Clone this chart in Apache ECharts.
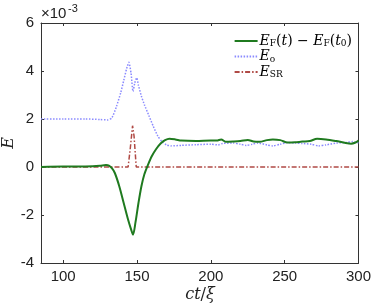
<!DOCTYPE html>
<html><head><meta charset="utf-8">
<script src="https://cdn.jsdelivr.net/npm/echarts@6/dist/echarts.min.js"></script>
<style>html,body{margin:0;padding:0;background:#fff}#c{width:374px;height:306px}</style>
</head><body><div id="c"></div>
<script>
// values in units of 1e-3
const greenX = [85,100,110,120,125,129,131,133,135,138,141,144,146,147.3,149,151,153,155,157.5,160,163,166,169,172,176,180,190,200,204,207,210,215,220,225,229,233,238,242,247,252,257,262,267,272,278,285,290,295,298,300];
const greenY = [0,0.02,0.02,0.03,0.05,0.08,0.06,-0.05,-0.25,-0.8,-1.5,-2.2,-2.6,-2.82,-2.3,-1.5,-0.8,-0.3,0.1,0.45,0.75,0.98,1.12,1.18,1.15,1.1,1.08,1.1,1.1,1.15,1.05,1.06,1.08,1.13,1.06,1.05,1.12,1.15,1.12,1.02,1.03,1.06,1.08,1.18,1.15,1.08,1.02,0.97,1.02,1.1];
const blueX = [85,100,115,125,130,133,136,139,141,143,144.5,146,147.3,148.5,149.8,151,153,155,158,161,164,167,170,173,180,190,200,205,208,215,220,224,228,232,238,242,247,252,257,262,268,273,278,285,292,296,300];
const blueY = [2.0,2.0,2.0,1.98,1.96,2.05,2.5,3.1,3.6,4.1,4.36,3.9,3.15,3.5,3.72,3.4,2.95,2.6,2.15,1.7,1.3,1.05,0.92,0.88,0.9,0.93,0.95,0.92,0.98,1.0,0.95,0.9,0.95,1.0,0.92,0.88,0.95,1.02,1.0,0.98,0.95,0.88,0.92,1.0,1.02,1.06,1.0];
const redX = [85,144,145.5,147,148,149.5,300];
const redY = [0,0,0.8,1.72,1.3,0,0];
const xTicks = [100,150,200,250,300];
const seriesNames = ['green','blue','red'];

const zip = (a,b) => a.map((v,i)=>[v,b[i]]);
const axisCol = '#333';
const chart = echarts.init(document.getElementById('c'), null, {renderer:'canvas'});
const serif = 'DejaVu Serif';
const legendRich = {
  it:{fontFamily:serif,fontStyle:'italic',fontSize:14,color:'#000'},
  rm:{fontFamily:serif,fontSize:14,color:'#000'},
  sub:{fontFamily:serif,fontSize:9,color:'#000',padding:[6,0,0,0]}
};
const legendText = {
  green:'{it|E}{sub|F}{rm|(}{it|t}{rm|) − }{it|E}{sub|F}{rm|(}{it|t}{sub|0}{rm|)}',
  blue:'{it|E}{sub|o}',
  red:'{it|E}{sub|SR}'
};
chart.setOption({
  animation:false,
  grid:{left:41,right:15,top:23,bottom:43,containLabel:false},
  legend:{
    show:true, orient:'vertical', right:17, top:29, itemWidth:23, itemHeight:10, itemGap:1,
    data:seriesNames,
    itemStyle:{opacity:0},
    formatter:n=>legendText[n],
    textStyle:{rich:legendRich, padding:[0,0,0,-3]}
  },
  xAxis:[{
    type:'value', min:85, max:300, position:'bottom',
    axisLine:{show:true,onZero:false,lineStyle:{color:axisCol,width:1}},
    axisTick:{show:true,inside:true,length:3,customValues:xTicks,lineStyle:{color:axisCol}},
    axisLabel:{customValues:xTicks,color:'#222',fontFamily:'Liberation Sans',fontSize:15,margin:6},
    splitLine:{show:false}
  },{
    type:'value', min:85, max:300, position:'top',
    axisLine:{show:true,onZero:false,lineStyle:{color:axisCol,width:1}},
    axisTick:{show:true,inside:true,length:3,customValues:xTicks,lineStyle:{color:axisCol}},
    axisLabel:{show:false}, splitLine:{show:false}
  }],
  yAxis:[{
    type:'value', min:-4, max:6, interval:2, position:'left',
    axisLine:{show:true,onZero:false,lineStyle:{color:axisCol,width:1}},
    axisTick:{show:true,inside:true,length:3,lineStyle:{color:axisCol}},
    axisLabel:{color:'#222',fontFamily:'Liberation Sans',fontSize:15,margin:7},
    splitLine:{show:false}
  },{
    type:'value', min:-4, max:6, interval:2, position:'right',
    axisLine:{show:true,onZero:false,lineStyle:{color:axisCol,width:1}},
    axisTick:{show:true,inside:true,length:3,lineStyle:{color:axisCol}},
    axisLabel:{show:false}, splitLine:{show:false}
  }],
  series:[
    {name:'green',type:'line',data:zip(greenX,greenY),symbol:'none',smooth:0.3,
     lineStyle:{color:'#1f7a1f',width:2},itemStyle:{color:'#1f7a1f'},z:3},
    {name:'blue',type:'line',data:zip(blueX,blueY),symbol:'none',smooth:0.2,
     lineStyle:{color:'#8a8aff',width:1.5,type:[1.5,1.5]},itemStyle:{color:'#8a8aff'},z:2},
    {name:'red',type:'line',data:zip(redX,redY),symbol:'none',
     lineStyle:{color:'#b04a45',width:1.5,type:[5,2,1.5,2]},itemStyle:{color:'#b04a45'},z:2}
  ],
  graphic:[
    {type:'text',x:41,y:14,style:{text:'×10',fontFamily:'Liberation Sans',fontSize:15,fill:'#222',verticalAlign:'middle'}},
    {type:'text',x:68,y:9,style:{text:'-3',fontFamily:'Liberation Sans',fontSize:11,fill:'#222',verticalAlign:'middle'}},
    {type:'text',x:9,y:143,rotation:Math.PI/2,style:{text:'E',fontFamily:serif,fontStyle:'italic',fontSize:16,fill:'#222',align:'center',verticalAlign:'middle'}},
    {type:'text',x:200,y:295,style:{text:'{i|ct}{r|/}{i|ξ}',rich:{i:{fontFamily:serif,fontStyle:'italic',fontSize:16,fill:'#222'},r:{fontFamily:serif,fontSize:16,fill:'#222'}},align:'center',verticalAlign:'middle'}}
  ]
});
</script></body></html>
